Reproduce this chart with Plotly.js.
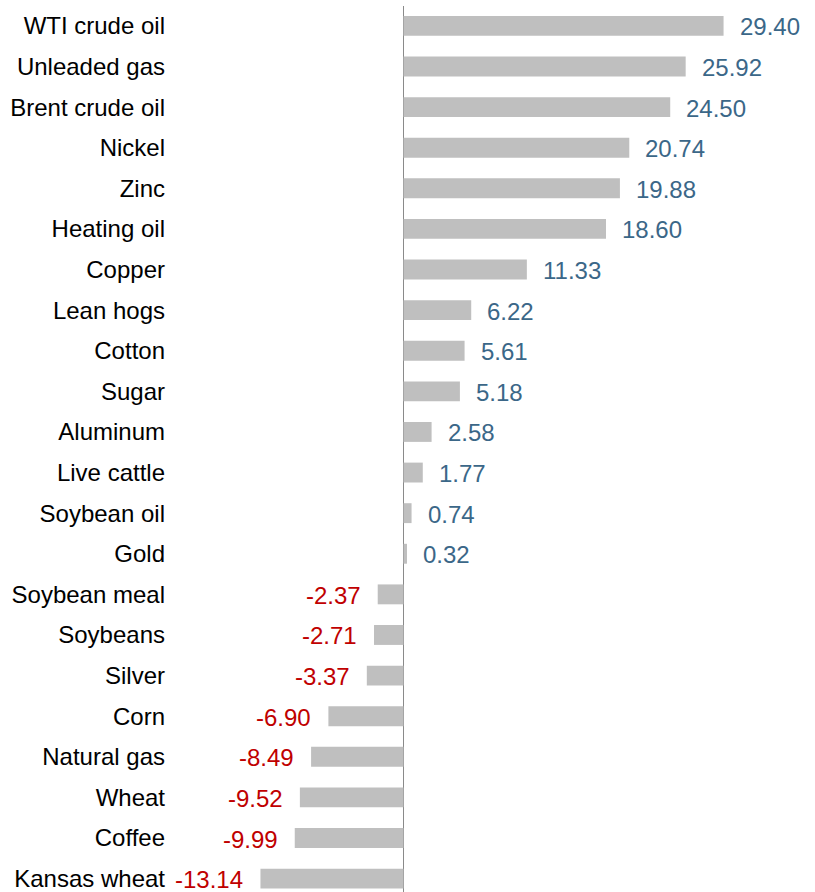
<!DOCTYPE html>
<html>
<head>
<meta charset="utf-8">
<script src="https://cdn.plot.ly/plotly-3.0.1.min.js"></script>
<style>html,body{margin:0;padding:0;background:#fff;}</style>
</head>
<body>
<div id="chart" style="width:815px;height:892px;"></div>
<script>
const categories = ["WTI crude oil","Unleaded gas","Brent crude oil","Nickel","Zinc","Heating oil","Copper","Lean hogs","Cotton","Sugar","Aluminum","Live cattle","Soybean oil","Gold","Soybean meal","Soybeans","Silver","Corn","Natural gas","Wheat","Coffee","Kansas wheat"];
const values = [29.40,25.92,24.50,20.74,19.88,18.60,11.33,6.22,5.61,5.18,2.58,1.77,0.74,0.32,-2.37,-2.71,-3.37,-6.90,-8.49,-9.52,-9.99,-13.14];

const positions = categories.map((c,i)=>i);
const posColor = "#3b6788", negColor = "#c00000";
const fontFam = '"Liberation Sans", Arial, sans-serif';

const annotations = values.map((v,i)=>({
  x: v, y: positions[i], xref:'x', yref:'y',
  text: v.toFixed(2), showarrow:false,
  xanchor: v>=0 ? 'left' : 'right',
  xshift: v>=0 ? 14 : -15,
  yshift: -1,
  font:{family:fontFam, size:24, color: v>=0 ? posColor : negColor}
}));

const trace = {
  type:'bar', orientation:'h',
  x: values, y: positions,
  width: 0.49,
  marker:{color:'#bfbfbf'},
  hoverinfo:'none'
};

const layout = {
  width:815, height:892,
  margin:{l:170, r:0, t:6, b:0},
  paper_bgcolor:'#fff', plot_bgcolor:'#fff',
  showlegend:false,
  xaxis:{range:[-21.45,37.8], showgrid:false, showticklabels:false, ticks:'',
         zeroline:true, zerolinecolor:'#8a8a8a', zerolinewidth:1.6, showline:false, fixedrange:true},
  yaxis:{range:[21.33,-0.49], tickvals:positions, ticktext:categories, showgrid:false, zeroline:false,
         ticks:'', showline:false, automargin:false, ticklabelstandoff:4,
         tickfont:{family:fontFam, size:24, color:'#000'}},
  annotations: annotations,
  font:{family:fontFam}
};

Plotly.newPlot('chart',[trace],layout,{displayModeBar:false, staticPlot:true});
</script>
</body>
</html>
